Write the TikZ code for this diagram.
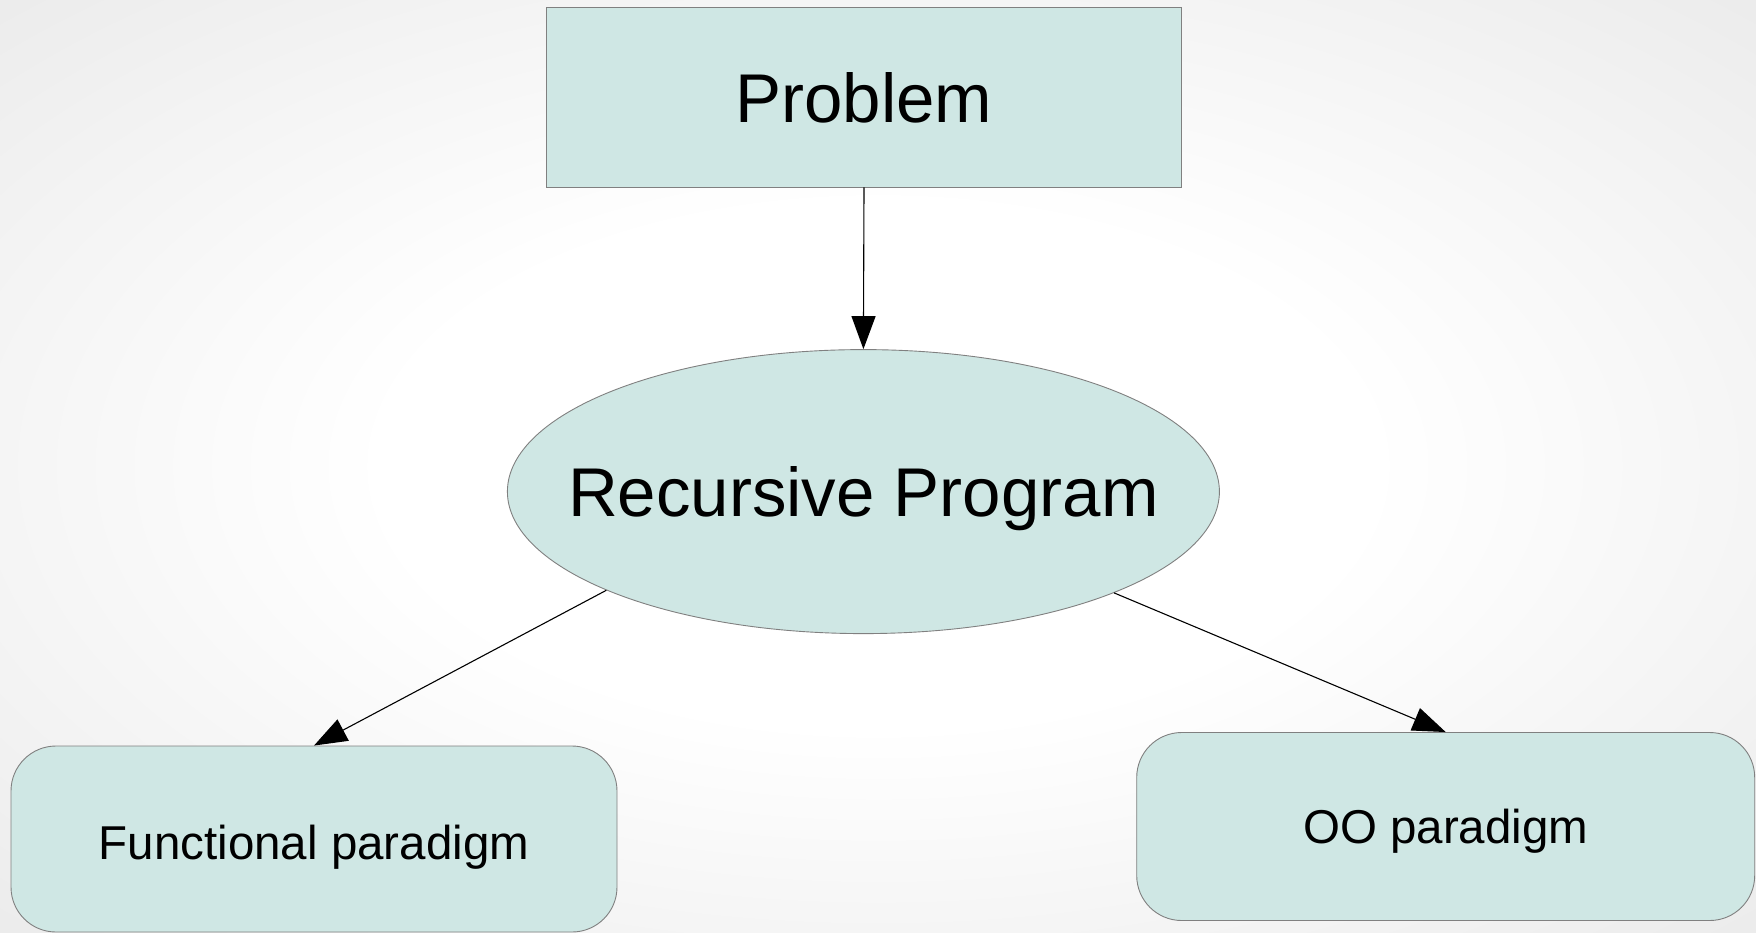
\documentclass[tikz,border=0pt]{standalone}
\usepackage{fontspec}
\setmainfont{Liberation Sans}
\usetikzlibrary{shapes.geometric,arrows.meta}
\definecolor{boxfill}{RGB}{207,231,228}
\definecolor{boxline}{RGB}{128,128,128}
\definecolor{bgedge}{RGB}{236,236,236}
\pgfdeclareradialshading{bgshade}{\pgfpoint{0bp}{0bp}}{color(0bp)=(white); color(14bp)=(white); color(35bp)=(bgedge); color(50bp)=(bgedge)}
\tikzset{
  bigtext/.style={font=\fontsize{69}{80}\selectfont, text depth=0pt},
  smalltext/.style={font=\fontsize{47.5}{56}\selectfont, text depth=0pt},
  boxbase/.style={fill=boxfill, draw=boxline, line width=0.9pt, inner sep=0pt},
  squarebox/.style={boxbase, rectangle},
  ellbox/.style={boxbase, ellipse},
  roundbox/.style={boxbase, rectangle, rounded corners=45pt},
  conn/.style={draw=black, line width=1.1pt, -{Triangle[length=33pt,width=24pt]}}
}
\begin{document}
\begin{tikzpicture}[x=1pt,y=-1pt]
\useasboundingbox (0,0) rectangle (1756,932);
\shade[shading=bgshade] (0,0) rectangle (1756,932);
\node[squarebox, bigtext, minimum width=635pt, minimum height=180pt] (prob) at (864,97) {Problem};
\node[ellbox, bigtext, minimum width=712pt, minimum height=284pt] (rec) at (863.4,491.6) {\makebox[0pt]{Recursive Program}};
\node[roundbox, smalltext, text height=41.5pt, minimum width=606pt, minimum height=186pt] (fun) at (314,839) {Functional paradigm};
\node[roundbox, smalltext, minimum width=618pt, minimum height=188pt] (oo) at (1445.7,826.5) {OO paradigm};
\draw[conn] (prob.south) -- (rec.north);
\draw[conn] (rec.201.8) -- (fun.north);
\draw[conn] (rec.338.25) -- (oo.north);
\end{tikzpicture}
\end{document}
